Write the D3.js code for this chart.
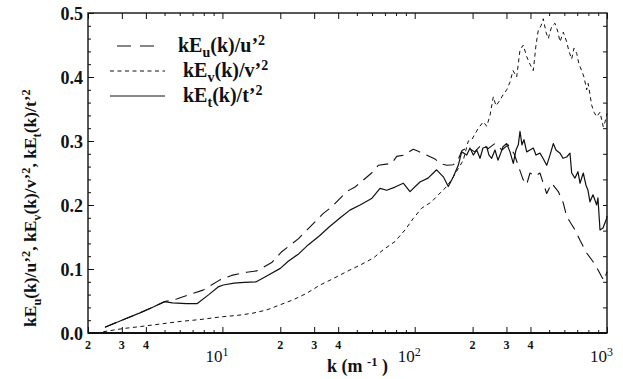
<!DOCTYPE html>
<html>
<head>
<meta charset="utf-8">
<script src="https://cdn.jsdelivr.net/npm/d3@7/dist/d3.min.js"></script>
<style>
  html, body { margin: 0; padding: 0; background: #fff; }
  svg { display: block; }
</style>
</head>
<body>
<svg id="chart" width="623" height="379"></svg>
<script>
// Normalised premultiplied spectra k*E(k)/variance against wavenumber k (m^-1)

// kEt(k)/t'^2 (solid)
const kT = [2.45, 3.0, 3.7, 4.4, 5.0, 5.5, 6.5, 7.4, 8.5, 9.5, 10.1, 11.5, 13, 15, 17, 20, 22, 25, 28, 32, 36, 41, 46, 52, 59.7, 66, 71.5, 79, 87.2, 94.5, 106.5, 117.3, 130, 140.9, 149.5, 158.8, 168.5, 175.5, 186.4, 193.9, 201.7, 210.1, 218.6, 226.5, 236.8, 243.4, 251.3, 261.5, 271, 277.7, 287.8, 300.9, 313, 325.6, 336.3, 345.7, 352.8, 361.3, 370.1, 382.2, 397.7, 413.7, 427.3, 448.3, 464.7, 485.7, 505.3, 525.7, 542.9, 569.6, 590.4, 617.1, 642, 655.1, 681.6, 706.3, 723.7, 752.7, 777.4, 796.3, 815.7, 845.6, 883.6, 897.4, 919.5, 952.8, 996, 1000];
const vT = [0.009, 0.020, 0.031, 0.041, 0.049, 0.047, 0.046, 0.046, 0.060, 0.072, 0.075, 0.078, 0.079, 0.080, 0.089, 0.101, 0.112, 0.124, 0.138, 0.152, 0.166, 0.180, 0.192, 0.200, 0.210, 0.226, 0.223, 0.228, 0.234, 0.221, 0.236, 0.242, 0.255, 0.244, 0.229, 0.244, 0.262, 0.283, 0.278, 0.289, 0.278, 0.286, 0.273, 0.289, 0.291, 0.278, 0.273, 0.286, 0.270, 0.278, 0.291, 0.296, 0.283, 0.265, 0.286, 0.294, 0.315, 0.294, 0.302, 0.283, 0.286, 0.289, 0.278, 0.281, 0.273, 0.262, 0.278, 0.296, 0.286, 0.281, 0.273, 0.275, 0.281, 0.250, 0.242, 0.252, 0.234, 0.250, 0.231, 0.223, 0.205, 0.216, 0.200, 0.211, 0.161, 0.164, 0.179, 0.183];

// kEu(k)/u'^2 (long dashes)
const kU = [2.45, 3.0, 3.7, 4.4, 5.0, 5.78, 7.03, 7.93, 9.71, 11.17, 13.38, 15.08, 18.05, 20.34, 24.8, 27.97, 33.5, 37.0, 44.3, 48.9, 59.7, 64.6, 75.9, 80.6, 89.0, 94.5, 98.3, 104.4, 109.1, 127.5, 135.4, 146.7, 158.8, 167.7, 176, 189, 205, 224, 241, 261, 284, 306, 329, 345, 365.7, 382, 397.7, 422.2, 448, 485.7, 515.6, 558.2, 592.6, 617, 681.6, 723.7, 784, 848.8, 900.6, 938, 964.5, 1000];
const vU = [0.009, 0.020, 0.031, 0.041, 0.049, 0.053, 0.062, 0.067, 0.083, 0.090, 0.095, 0.097, 0.110, 0.127, 0.147, 0.163, 0.187, 0.197, 0.221, 0.228, 0.250, 0.262, 0.265, 0.276, 0.278, 0.284, 0.287, 0.284, 0.281, 0.272, 0.265, 0.262, 0.263, 0.270, 0.285, 0.290, 0.283, 0.295, 0.288, 0.296, 0.286, 0.294, 0.280, 0.262, 0.240, 0.232, 0.250, 0.245, 0.250, 0.218, 0.234, 0.221, 0.203, 0.182, 0.161, 0.145, 0.125, 0.111, 0.098, 0.088, 0.082, 0.096];

// kEv(k)/v'^2 (short dashes)
const kV = [2.40, 3.05, 3.73, 4.74, 6.02, 7.64, 9.71, 12.35, 14.42, 17.0, 19.93, 23.4, 27.4, 32.2, 37.7, 44.3, 51.9, 60.9, 68.6, 79.0, 89.0, 98.3, 108.7, 122.5, 132.6, 143.7, 152.6, 158.8, 168.5, 178.9, 190, 197.9, 214.2, 227.4, 236.8, 246.4, 256.3, 264.7, 277.7, 287.8, 300.9, 313, 324.5, 339.1, 352.8, 367.1, 382, 397.7, 413.7, 427.3, 439.3, 453.7, 466.4, 481.6, 495.1, 515.6, 536.4, 556.1, 569.6, 592.6, 617, 634.4, 655.1, 673.4, 695.5, 715, 738.3, 759, 784, 798, 832.5, 855.8, 883.6, 919.5, 956.6, 977, 1000];
const vV = [0.002, 0.007, 0.010, 0.014, 0.018, 0.021, 0.025, 0.028, 0.031, 0.036, 0.044, 0.052, 0.062, 0.075, 0.085, 0.096, 0.106, 0.117, 0.130, 0.143, 0.161, 0.179, 0.195, 0.205, 0.216, 0.226, 0.236, 0.244, 0.257, 0.270, 0.300, 0.302, 0.320, 0.330, 0.323, 0.340, 0.369, 0.355, 0.364, 0.372, 0.380, 0.392, 0.410, 0.400, 0.442, 0.450, 0.432, 0.420, 0.410, 0.450, 0.473, 0.480, 0.491, 0.470, 0.460, 0.479, 0.484, 0.470, 0.455, 0.470, 0.455, 0.440, 0.428, 0.445, 0.437, 0.420, 0.410, 0.400, 0.380, 0.390, 0.356, 0.345, 0.338, 0.345, 0.322, 0.330, 0.343];

// Axis ticks
const yMajor = [0, 0.1, 0.2, 0.3, 0.4, 0.5];
const yMinorLeft = d3.range(0, 0.5001, 0.02);
const yMinorRight = d3.range(0, 0.5001, 0.04);
const xLabelled = [2, 3, 4, 20, 30, 40, 200, 300, 400];
const xDecades = [10, 100, 1000];
const xDecadeExp = ["1", "2", "3"];
const xAll = [2,3,4,5,6,7,8,9,10,20,30,40,50,60,70,80,90,100,200,300,400,500,600,700,800,900,1000];

const legendItems = [
  { sub: "u", dash: "14,9" },
  { sub: "v", dash: "4,3.5" },
  { sub: "t", dash: null }
];

const FONT = "'Liberation Serif'";
const W = 623, H = 379;
const margin = { left: 88, right: 16, top: 13, bottom: 46 };
const svg = d3.select("#chart");

const x = d3.scaleLog().domain([2, 1000]).range([margin.left, W - margin.right]);
const y = d3.scaleLinear().domain([0, 0.5]).range([H - margin.bottom, margin.top]);

const ink = "#111";

function serif(sel, size, weight) {
  return sel.style("font-family", FONT)
    .style("font-size", size + "px")
    .style("font-weight", weight || "bold")
    .attr("fill", ink);
}

// Curves
const line = d3.line().x(d => x(d[0])).y(d => y(d[1]));
const series = [
  { k: kU, v: vU, dash: "12,7", w: 1.1 },
  { k: kV, v: vV, dash: "4,3.5", w: 1.0 },
  { k: kT, v: vT, dash: null, w: 1.2 }
];
const plot = svg.append("g");
series.forEach(s => {
  plot.append("path")
    .datum(s.k.map((k, i) => [k, s.v[i]]))
    .attr("d", line)
    .attr("fill", "none")
    .attr("stroke", ink)
    .attr("stroke-width", s.w)
    .attr("stroke-linejoin", "round")
    .attr("stroke-dasharray", s.dash);
});

// Frame
svg.append("rect")
  .attr("x", margin.left).attr("y", margin.top)
  .attr("width", W - margin.left - margin.right)
  .attr("height", H - margin.top - margin.bottom)
  .attr("fill", "none").attr("stroke", ink).attr("stroke-width", 1.4);
svg.append("line")
  .attr("x1", margin.left).attr("x2", W - margin.right)
  .attr("y1", y(0)).attr("y2", y(0))
  .attr("stroke", ink).attr("stroke-width", 2.2);

function styleAxis(g) {
  g.select(".domain").remove();
  g.selectAll(".tick line").attr("stroke", ink).attr("stroke-width", 1);
}

// x ticks, bottom and top (inward)
const isLab = v => xLabelled.includes(v) || xDecades.includes(v);
svg.append("g").attr("transform", `translate(0,${y(0)})`)
  .call(d3.axisBottom(x).tickValues(xAll.filter(v => !isLab(v))).tickSize(-3).tickFormat(""))
  .call(styleAxis);
svg.append("g").attr("transform", `translate(0,${y(0)})`)
  .call(d3.axisBottom(x).tickValues(xAll.filter(isLab)).tickSize(-6).tickFormat(""))
  .call(styleAxis);
svg.append("g").attr("transform", `translate(0,${y(0.5)})`)
  .call(d3.axisTop(x).tickValues(xAll.filter(v => !isLab(v))).tickSize(-3).tickFormat(""))
  .call(styleAxis);
svg.append("g").attr("transform", `translate(0,${y(0.5)})`)
  .call(d3.axisTop(x).tickValues(xAll.filter(isLab)).tickSize(-6).tickFormat(""))
  .call(styleAxis);

// x labels
svg.append("g").selectAll("text").data(xLabelled).join("text")
  .attr("x", d => x(d)).attr("y", y(0) + 16)
  .attr("text-anchor", "middle")
  .call(serif, 12)
  .text(d => String(d).charAt(0));
const dec = svg.append("g").selectAll("text").data(xDecades).join("text")
  .attr("y", y(0) + 29)
  .call(serif, 17, "normal");
dec.append("tspan").text("10");
dec.append("tspan").attr("dy", -6).style("font-size", "12px").text((d, i) => xDecadeExp[i]);
dec.each(function(d) {
  const first = this.firstChild.getComputedTextLength();
  d3.select(this).attr("x", x(d) - first);
});

// y ticks
svg.append("g").attr("transform", `translate(${margin.left},0)`)
  .call(d3.axisLeft(y).tickValues(yMinorLeft).tickSize(-3).tickFormat(""))
  .call(styleAxis);
svg.append("g").attr("transform", `translate(${margin.left},0)`)
  .call(d3.axisLeft(y).tickValues(yMajor).tickSize(-6).tickFormat(d3.format(".1f")))
  .call(styleAxis)
  .call(g => g.selectAll(".tick text").call(serif, 18).attr("dy", "0.35em").attr("x", -5));
svg.append("g").attr("transform", `translate(${W - margin.right},0)`)
  .call(d3.axisRight(y).tickValues(yMinorRight).tickSize(-4).tickFormat(""))
  .call(styleAxis);

// helper: label with subscript / superscript runs
function richText(sel, parts, size) {
  let shift = 0;
  serif(sel, size);
  parts.forEach(p => {
    const target = p.t === "sub" ? size * 0.26 : p.t === "sup" ? -size * 0.36 : 0;
    sel.append("tspan")
      .attr("dy", target - shift)
      .style("font-size", (p.t ? size * 0.7 : size) + "px")
      .text(p.s);
    shift = target;
  });
}
function specParts(c) {
  return [{ s: "kE" }, { s: c, t: "sub" }, { s: `(k)/${c}\u2019` }, { s: "2", t: "sup" }];
}

// x title
const xt = svg.append("text").attr("x", 327).attr("y", 372);
richText(xt, [{ s: "k  (m " }, { s: "-1", t: "sup" }, { s: " )" }], 18);

// y title, read bottom to top
const yt = svg.append("text")
  .attr("transform", `translate(36,327) rotate(-90)`)
  .attr("text-anchor", "start");
richText(yt, [
  ...specParts("u"), { s: ", " },
  ...specParts("v"), { s: ", " },
  ...specParts("t")
], 17.5);

// legend
const lg = svg.append("g");
const rowsY = [46, 71, 96];
const lineX = [[117, 157], [110, 165], [110, 165]];
const textX = [178, 183, 183];
legendItems.forEach((it, i) => {
  lg.append("line")
    .attr("x1", lineX[i][0]).attr("x2", lineX[i][1])
    .attr("y1", rowsY[i]).attr("y2", rowsY[i])
    .attr("stroke", ink).attr("stroke-width", 1)
    .attr("stroke-dasharray", it.dash);
  const t = lg.append("text").attr("x", textX[i]).attr("y", rowsY[i] + 6);
  richText(t, specParts(it.sub), 20);
});
</script>
</body>
</html>
